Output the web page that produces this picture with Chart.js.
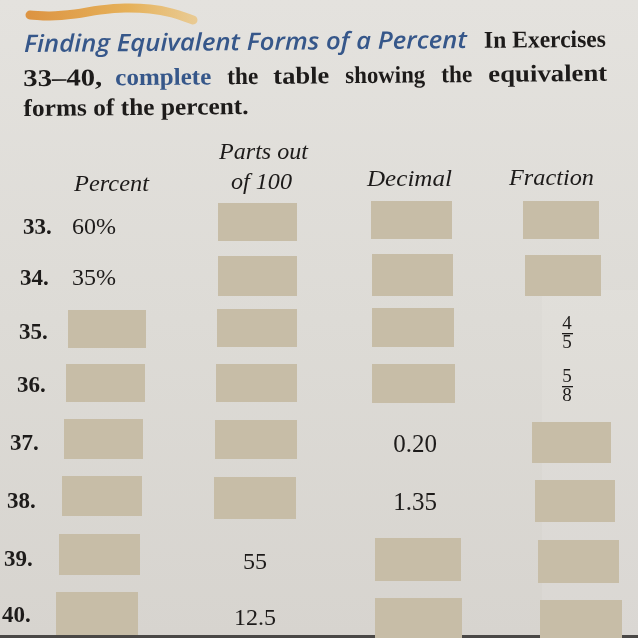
<!DOCTYPE html>
<html>
<head>
<meta charset="utf-8">
<script src="https://cdn.jsdelivr.net/npm/chart.js@4.4.0/dist/chart.umd.min.js"></script>
<style>
  html, body { margin: 0; padding: 0; background: #dedcd8; }
  #wrap { position: relative; width: 638px; height: 638px; overflow: hidden; }
  canvas { display: block; }
</style>
</head>
<body>
<div id="wrap"><canvas id="page" width="638" height="638"></canvas></div>
<script>
// exercise rows
const rowNumbers = ['33.', '34.', '35.', '36.', '37.', '38.', '39.', '40.'];
const rowNumberX = [23, 20, 19, 17, 10, 7, 4, 2];
const rowBaseline = [234, 285, 339, 392, 450, 508, 566, 622];

// values printed in the table (null = blank answer box)
const percentValues = ['60%', '35%', null, null, null, null, null, null];
const partsValues = [null, null, null, null, null, null, '55', '12.5'];
const decimalValues = [null, null, null, null, '0.20', '1.35', null, null];
const fractionNum = [null, null, '4', '5', null, null, null, null];
const fractionDen = [null, null, '5', '8', null, null, null, null];

// column headings
const headings = ['Percent', 'Parts out', 'of 100', 'Decimal', 'Fraction'];
const headingX0 = [74, 219, 231, 367, 509];
const headingX1 = [149, 308, 292, 452, 594];
const headingBase = [191, 159, 189, 186, 185];

// answer boxes per column: left, right, top, bottom
const percentBoxL = [null, null, 68, 66, 64, 62, 59, 56];
const percentBoxR = [null, null, 146, 145, 143, 142, 140, 138];
const percentBoxT = [null, null, 310, 364, 419, 476, 534, 592];
const percentBoxB = [null, null, 348, 402, 459, 516, 575, 635];

const partsBoxL = [218, 218, 217, 216, 215, 214, null, null];
const partsBoxR = [297, 297, 297, 297, 297, 296, null, null];
const partsBoxT = [203, 256, 309, 364, 420, 477, null, null];
const partsBoxB = [241, 296, 347, 402, 459, 519, null, null];

const decimalBoxL = [371, 372, 372, 372, null, null, 375, 375];
const decimalBoxR = [452, 453, 454, 455, null, null, 461, 462];
const decimalBoxT = [201, 254, 308, 364, null, null, 538, 598];
const decimalBoxB = [239, 296, 347, 403, null, null, 581, 640];

const fractionBoxL = [523, 525, null, null, 532, 535, 538, 540];
const fractionBoxR = [599, 601, null, null, 611, 615, 619, 622];
const fractionBoxT = [201, 255, null, null, 422, 480, 540, 600];
const fractionBoxB = [239, 296, null, null, 463, 522, 583, 640];

// orange marker stroke above the heading
const brushX = [30, 50, 75, 100, 125, 150, 172, 193];
const brushY = [15, 16, 14, 10, 8, 9, 13, 20];

// instruction line 2 words and their extents
const line2Words = ['33\u201340,', 'complete', 'the', 'table', 'showing', 'the', 'equivalent'];
const line2X0 = [23, 115, 227, 273, 345, 441, 488];
const line2X1 = [102, 211, 258, 329, 425, 472, 607];

const BOX_COLOR = '#c7bda7';
const BLUE = '#36578a';
const INK = '#1d1b1a';

function boxDatasets(L, R, T, B) {
  const out = [];
  for (let i = 0; i < L.length; i++) {
    if (L[i] === null) continue;
    out.push({
      type: 'line',
      data: [
        { x: L[i], y: T[i] }, { x: R[i], y: T[i] },
        { x: R[i], y: B[i] }, { x: L[i], y: B[i] }, { x: L[i], y: T[i] }
      ],
      borderWidth: 0,
      borderColor: BOX_COLOR,
      backgroundColor: BOX_COLOR,
      pointRadius: 0,
      tension: 0,
      fill: 'shape'
    });
  }
  return out;
}

const datasets = [].concat(
  boxDatasets(percentBoxL, percentBoxR, percentBoxT, percentBoxB),
  boxDatasets(partsBoxL, partsBoxR, partsBoxT, partsBoxB),
  boxDatasets(decimalBoxL, decimalBoxR, decimalBoxT, decimalBoxB),
  boxDatasets(fractionBoxL, fractionBoxR, fractionBoxT, fractionBoxB)
);

datasets.push({
  type: 'line',
  data: brushX.map((x, i) => ({ x: x, y: brushY[i] })),
  borderColor: (c) => {
    const ch = c.chart;
    if (!ch.chartArea) return '#e0a040';
    const g = ch.ctx.createLinearGradient(ch.scales.x.getPixelForValue(30), 0,
      ch.scales.x.getPixelForValue(195), 0);
    g.addColorStop(0, 'rgba(220, 140, 50, 0.9)');
    g.addColorStop(0.6, 'rgba(230, 168, 66, 0.85)');
    g.addColorStop(1, 'rgba(236, 186, 96, 0.6)');
    return g;
  },
  borderWidth: 9,
  borderCapStyle: 'round',
  pointRadius: 0,
  tension: 0.4,
  fill: false
});

// paper background
const paperPlugin = {
  id: 'paper',
  beforeDraw(chart) {
    const ctx = chart.ctx;
    const g = ctx.createLinearGradient(0, 0, 0, chart.height);
    g.addColorStop(0, '#e4e2de');
    g.addColorStop(0.5, '#dddbd6');
    g.addColorStop(1, '#d7d4cf');
    ctx.save();
    ctx.fillStyle = g;
    ctx.fillRect(0, 0, chart.width, chart.height);
    ctx.fillStyle = 'rgba(255,255,255,0.09)';
    ctx.fillRect(542, 290, chart.width - 542, chart.height - 290);
    ctx.fillStyle = '#4a4846';
    ctx.fillRect(0, chart.height - 3, chart.width, 3);
    ctx.restore();
  }
};

function fitText(ctx, text, x0, x1, y, font, color) {
  ctx.font = font;
  const w = ctx.measureText(text).width;
  ctx.save();
  ctx.textAlign = 'left';
  ctx.translate(x0, y);
  ctx.scale((x1 - x0) / w, 1);
  ctx.fillStyle = color;
  ctx.fillText(text, 0, 0);
  ctx.restore();
}

const textPlugin = {
  id: 'pageText',
  afterDatasetsDraw(chart) {
    const ctx = chart.ctx;
    const sx = v => chart.scales.x.getPixelForValue(v);
    const sy = v => chart.scales.y.getPixelForValue(v);
    ctx.save();
    ctx.textBaseline = 'alphabetic';

    // instruction paragraph, slightly tilted like the photo
    ctx.save();
    ctx.translate(sx(24), sy(52));
    ctx.rotate(-0.009);
    ctx.translate(-sx(24), -sy(52));
    const serifB = 'bold 24px "Liberation Serif"';
    fitText(ctx, 'Finding Equivalent Forms of a Percent', sx(24), sx(467), sy(52),
      'italic 600 24px "Open Sans"', BLUE);
    fitText(ctx, 'In Exercises', sx(484), sx(606), sy(52), serifB, INK);
    line2Words.forEach((w, i) => {
      fitText(ctx, w, sx(line2X0[i]), sx(line2X1[i]), sy(86), serifB, i === 1 ? BLUE : INK);
    });
    fitText(ctx, 'forms of the percent.', sx(23), sx(248), sy(116), serifB, INK);
    ctx.restore();

    // column headings
    headings.forEach((h, i) => {
      fitText(ctx, h, sx(headingX0[i]), sx(headingX1[i]), sy(headingBase[i]),
        'italic 24px "Liberation Serif"', INK);
    });

    // rows
    ctx.fillStyle = INK;
    rowNumbers.forEach((n, i) => {
      const y = sy(rowBaseline[i]);
      ctx.textAlign = 'left';
      ctx.font = 'bold 23px "Liberation Serif"';
      ctx.fillText(n, sx(rowNumberX[i]), y);
      ctx.font = '24px "Liberation Serif"';
      if (percentValues[i]) ctx.fillText(percentValues[i], sx(72), y);
      ctx.textAlign = 'center';
      if (partsValues[i]) ctx.fillText(partsValues[i], sx(255), y + 3);
      ctx.font = '25px "Liberation Serif"';
      if (decimalValues[i]) ctx.fillText(decimalValues[i], sx(415), y + 2);
      if (fractionNum[i]) {
        ctx.font = '19px "Liberation Serif"';
        const cx = sx(567);
        ctx.fillText(fractionNum[i], cx, y - 10);
        ctx.fillText(fractionDen[i], cx, y + 9);
        ctx.fillRect(cx - 5, y - 6, 11, 1.3);
      }
    });
    ctx.restore();
  }
};

new Chart(document.getElementById('page'), {
  data: { datasets: datasets },
  options: {
    responsive: false,
    animation: false,
    layout: { padding: 0 },
    plugins: { legend: { display: false }, tooltip: { enabled: false } },
    scales: {
      x: { type: 'linear', min: 0, max: 638, display: false },
      y: { type: 'linear', min: 0, max: 638, reverse: true, display: false }
    }
  },
  plugins: [paperPlugin, textPlugin]
});
</script>
</body>
</html>
